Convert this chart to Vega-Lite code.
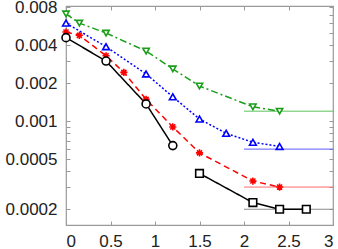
{
  "$schema": "https://vega.github.io/schema/vega-lite/v6.json",
  "width": 267,
  "height": 219,
  "autosize": {"type": "none"},
  "padding": {"left": 66, "top": 6, "right": 5, "bottom": 24},
  "background": "white",
  "config": {
    "view": {"stroke": "#9a9a9a", "strokeWidth": 1.2},
    "axis": {
      "domain": false,
      "grid": false,
      "labelFont": "Liberation Sans",
      "labelFontSize": 17,
      "labelColor": "#222222",
      "tickColor": "#9a9a9a",
      "tickSize": -4,
      "tickWidth": 1,
      "title": null
    }
  },
  "datasets": {
    "curves": [
      {"s": "green", "x": 0, "y": 0.0071},
      {"s": "green", "x": 0.15, "y": 0.0060},
      {"s": "green", "x": 0.45, "y": 0.0050},
      {"s": "green", "x": 0.9, "y": 0.0036},
      {"s": "green", "x": 1.2, "y": 0.0026},
      {"s": "green", "x": 1.5, "y": 0.0019},
      {"s": "green", "x": 2.1, "y": 0.0013},
      {"s": "green", "x": 2.4, "y": 0.0012},
      {"s": "blue", "x": 0, "y": 0.0060},
      {"s": "blue", "x": 0.45, "y": 0.0039},
      {"s": "blue", "x": 0.9, "y": 0.00237},
      {"s": "blue", "x": 1.2, "y": 0.00156},
      {"s": "blue", "x": 1.5, "y": 0.00104},
      {"s": "blue", "x": 1.8, "y": 0.0008},
      {"s": "blue", "x": 2.1, "y": 0.00068},
      {"s": "blue", "x": 2.4, "y": 0.00063},
      {"s": "red", "x": 0, "y": 0.0051},
      {"s": "red", "x": 0.15, "y": 0.0048},
      {"s": "red", "x": 0.45, "y": 0.0033},
      {"s": "red", "x": 0.65, "y": 0.00244},
      {"s": "red", "x": 0.9, "y": 0.00149},
      {"s": "red", "x": 1.2, "y": 0.0009},
      {"s": "red", "x": 1.5, "y": 0.00056},
      {"s": "red", "x": 2.1, "y": 0.000335},
      {"s": "red", "x": 2.4, "y": 0.0003},
      {"s": "circ", "x": 0, "y": 0.0046},
      {"s": "circ", "x": 0.45, "y": 0.0030},
      {"s": "circ", "x": 0.9, "y": 0.00137},
      {"s": "circ", "x": 1.2, "y": 0.00064},
      {"s": "sq", "x": 1.5, "y": 0.000385},
      {"s": "sq", "x": 2.1, "y": 0.000226},
      {"s": "sq", "x": 2.4, "y": 0.0002},
      {"s": "sq", "x": 2.7, "y": 0.0002}
    ],
    "refs": [
      {"r": "green", "x0": 2, "x1": 3, "y": 0.0012},
      {"r": "blue", "x0": 2, "x1": 3, "y": 0.0006},
      {"r": "red", "x0": 2, "x1": 3, "y": 0.0003},
      {"r": "black", "x0": 2, "x1": 3, "y": 0.0002}
    ]
  },
  "resolve": {"scale": {"x": "independent", "y": "independent"}},
  "layer": [
    {
      "data": {"name": "refs"},
      "mark": {"type": "rule", "strokeWidth": 1},
      "encoding": {
        "x": {"field": "x0", "type": "quantitative", "scale": {"domain": [0, 3], "nice": false, "zero": false},
          "axis": {"orient": "top", "labels": false, "values": [0, 0.5, 1, 1.5, 2, 2.5, 3]}},
        "x2": {"field": "x1"},
        "y": {"field": "y", "type": "quantitative", "scale": {"type": "log", "domain": [0.00015, 0.0082], "nice": false},
          "axis": {"orient": "right", "labels": false,
            "values": [0.0002, 0.0003, 0.0004, 0.0005, 0.0006, 0.0007, 0.0008, 0.0009, 0.001, 0.002, 0.003, 0.004, 0.005, 0.006, 0.007, 0.008]}},
        "stroke": {"field": "r", "type": "nominal", "legend": null,
          "scale": {"domain": ["green", "blue", "red", "black"], "range": ["#5cc35c", "#5a5aff", "#ff6a6a", "#8a8a8a"]}}
      }
    },
    {
      "data": {"name": "curves"},
      "mark": {"type": "line", "strokeWidth": 1.5},
      "encoding": {
        "x": {"field": "x", "type": "quantitative", "scale": {"domain": [0, 3], "nice": false, "zero": false},
          "axis": {"orient": "bottom", "values": [0, 0.5, 1, 1.5, 2, 2.5, 3], "format": "~g", "labelPadding": 12}},
        "y": {"field": "y", "type": "quantitative", "scale": {"type": "log", "domain": [0.00015, 0.0082], "nice": false},
          "axis": {"orient": "left", "format": ".4~f", "labelPadding": 13,
            "values": [0.0002, 0.0003, 0.0004, 0.0005, 0.0006, 0.0007, 0.0008, 0.0009, 0.001, 0.002, 0.003, 0.004, 0.005, 0.006, 0.007, 0.008],
            "labelExpr": "indexof([0.0002, 0.0005, 0.001, 0.002, 0.004, 0.008], datum.value) >= 0 ? datum.label : ''"}},
        "color": {"field": "s", "type": "nominal", "legend": null,
          "scale": {"domain": ["circ", "sq", "red", "blue", "green"], "range": ["#000000", "#000000", "#ff0000", "#0000ff", "#1a9e1a"]}},
        "strokeDash": {"field": "s", "type": "nominal", "legend": null,
          "scale": {"domain": ["circ", "sq", "red", "blue", "green"], "range": [[1, 0], [1, 0], [6, 4], [2, 2], [7, 3, 2, 3]]}}
      }
    },
    {
      "data": {"name": "curves"},
      "mark": {"type": "point", "filled": false, "fill": "white", "strokeWidth": 1.6, "opacity": 1},
      "encoding": {
        "x": {"field": "x", "type": "quantitative", "scale": {"domain": [0, 3], "nice": false, "zero": false}, "axis": null},
        "y": {"field": "y", "type": "quantitative", "scale": {"type": "log", "domain": [0.00015, 0.0082], "nice": false}, "axis": null},
        "color": {"field": "s", "type": "nominal", "legend": null},
        "shape": {"field": "s", "type": "nominal", "legend": null,
          "scale": {"domain": ["circ", "sq", "red", "blue", "green"],
            "range": ["circle", "square", "M-1,0H1M0,-1V1M-0.7,-0.7L0.7,0.7M-0.7,0.7L0.7,-0.7", "triangle-up", "triangle-down"]}},
        "size": {"field": "s", "type": "nominal", "legend": null,
          "scale": {"domain": ["circ", "sq", "red", "blue", "green"], "range": [64, 40, 75, 85, 85]}}
      }
    }
  ]
}
